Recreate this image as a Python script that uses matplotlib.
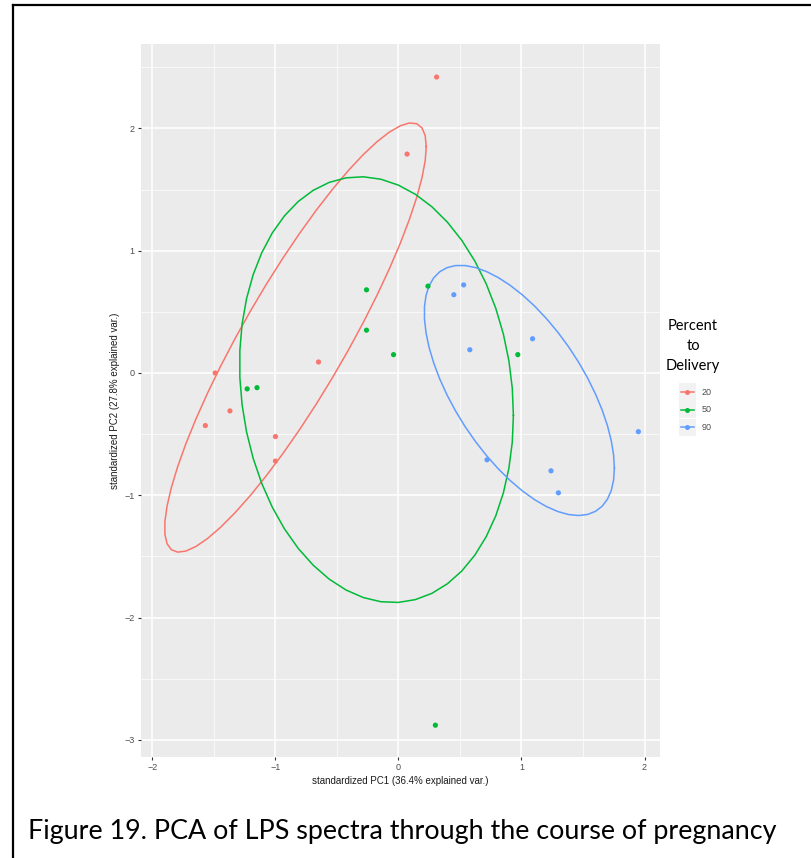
#!/usr/bin/env python3
"""PCA biplot of LPS spectra (ggbiplot look), grouped by percent to delivery."""

import matplotlib
matplotlib.use("Agg")
import matplotlib.pyplot as plt
from matplotlib.lines import Line2D
from matplotlib.patches import Rectangle
import numpy as np

# ---------------------------------------------------------------------------
# Data (PC scores)
# ---------------------------------------------------------------------------
GROUPS = ["20", "50", "90"]
COLORS = {"20": "#F8766D", "50": "#00BA38", "90": "#619CFF"}

pc1_20 = [0.31, 0.07, -0.65, -1.49, -1.37, -1.57, -1.00, -1.00]
pc2_20 = [2.42, 1.79, 0.09, 0.00, -0.31, -0.43, -0.52, -0.72]

pc1_50 = [-0.26, -0.26, -0.04, -1.23, -1.15, 0.24, 0.97, 0.30]
pc2_50 = [0.68, 0.35, 0.15, -0.13, -0.12, 0.71, 0.15, -2.88]

pc1_90 = [0.53, 0.45, 0.58, 1.09, 0.72, 1.24, 1.30, 1.95]
pc2_90 = [0.72, 0.64, 0.19, 0.28, -0.71, -0.80, -0.98, -0.48]

SCORES = {
    "20": (pc1_20, pc2_20),
    "50": (pc1_50, pc2_50),
    "90": (pc1_90, pc2_90),
}

ELLIPSE_PROB = 0.68
X_TICKS = [-2, -1, 0, 1, 2]
Y_TICKS = [-3, -2, -1, 0, 1, 2]

W, H = 812, 858


def normal_ellipse(x, y, prob=ELLIPSE_PROB, n=50):
    """Same construction as ggbiplot: mu + ed * circle %*% chol(sigma)."""
    xy = np.column_stack([x, y])
    mu = xy.mean(axis=0)
    sigma = np.cov(xy, rowvar=False)
    ed = np.sqrt(-2.0 * np.log(1.0 - prob))  # sqrt(qchisq(prob, 2))
    theta = np.linspace(0, 2 * np.pi, n)
    circle = np.column_stack([np.cos(theta), np.sin(theta)])
    L = np.linalg.cholesky(sigma)
    return mu + ed * circle @ L.T


def fx(px):
    return px / W


def fy(py):
    return 1 - py / H


fig = plt.figure(figsize=(W / 100, H / 100), dpi=100)

# panel in pixel coords: x 141..660, y 44..757
ax = fig.add_axes([fx(141), fy(757), (660 - 141) / W, (757 - 44) / H])
ax.set_facecolor("#EBEBEB")
for s in ax.spines.values():
    s.set_visible(False)

ax.set_xlim(-2.093, 2.126)
ax.set_ylim(-3.14, 2.69)
ax.set_xticks(X_TICKS)
ax.set_yticks(Y_TICKS)
ax.set_xticks(np.arange(-2, 2.5, 0.5), minor=True)
ax.set_yticks(np.arange(-3, 3.0, 0.5), minor=True)
ax.set_xticklabels(["\u22122", "\u22121", "0", "1", "2"])
ax.set_yticklabels(["\u22123", "\u22122", "\u22121", "0", "1", "2"])
ax.grid(True, which="major", color="white", lw=1.1, zorder=0)
ax.grid(True, which="minor", color="white", lw=0.5, zorder=0)
ax.set_axisbelow(True)
ax.tick_params(which="major", length=2.5, width=0.8, color="#333333",
               labelsize=6.5, labelcolor="#4D4D4D", pad=2)
ax.tick_params(which="minor", length=0)
for lab in ax.get_xticklabels() + ax.get_yticklabels():
    lab.set_family("Liberation Sans")

for g in GROUPS:
    x, y = SCORES[g]
    ax.scatter(x, y, s=14, color=COLORS[g], edgecolors="none", zorder=3)
    ell = normal_ellipse(x, y)
    ax.plot(ell[:, 0], ell[:, 1], color=COLORS[g], lw=1.1, zorder=2)

ax.set_xlabel("standardized PC1 (36.4% explained var.)", fontsize=7,
              family="Liberation Sans", color="#1A1A1A", labelpad=3)
ax.set_ylabel("standardized PC2 (27.8% explained var.)", fontsize=7,
              family="Liberation Sans", color="#1A1A1A", labelpad=3)

# legend, drawn by hand in pixel coords: grey key box + line + point
KEY_X0, KEY_SIZE, KEY_TOP, KEY_STEP = 679, 17, 383.5, 17.6
for i, g in enumerate(GROUPS):
    top = KEY_TOP + i * KEY_STEP
    cy = top + KEY_SIZE / 2
    fig.add_artist(Rectangle((fx(KEY_X0), fy(top + KEY_SIZE)), KEY_SIZE / W, KEY_SIZE / H,
                             transform=fig.transFigure, facecolor="#F2F2F2",
                             edgecolor="none"))
    fig.add_artist(Line2D([fx(KEY_X0 + 2), fx(KEY_X0 + KEY_SIZE - 2)], [fy(cy), fy(cy)],
                          color=COLORS[g], lw=1.1))
    fig.add_artist(Line2D([fx(KEY_X0 + KEY_SIZE / 2)], [fy(cy)], color=COLORS[g],
                          marker="o", markersize=3.6, markeredgewidth=0, lw=0))
    fig.text(fx(KEY_X0 + KEY_SIZE + 6), fy(cy), g, ha="left", va="center",
             fontsize=6.5, family="Liberation Sans", color="#4D4D4D")

fig.text(fx(693), fy(346), "Percent\nto\nDelivery", ha="center", va="center",
         multialignment="center", fontsize=10.5, family="Lato",
         linespacing=1.52, color="black")

# caption
fig.text(fx(28), fy(832), "Figure 19. PCA of LPS spectra through the course of pregnancy",
         ha="left", va="center", fontsize=19.4, family="Lato", color="black")

# frame (top and left edges visible)
fig.add_artist(Line2D([fx(13), 1.0], [fy(5), fy(5)], color="black", lw=1.6))
fig.add_artist(Line2D([fx(13), fx(13)], [fy(5), 0.0], color="black", lw=1.6))

fig.savefig("out.png", dpi=100)
